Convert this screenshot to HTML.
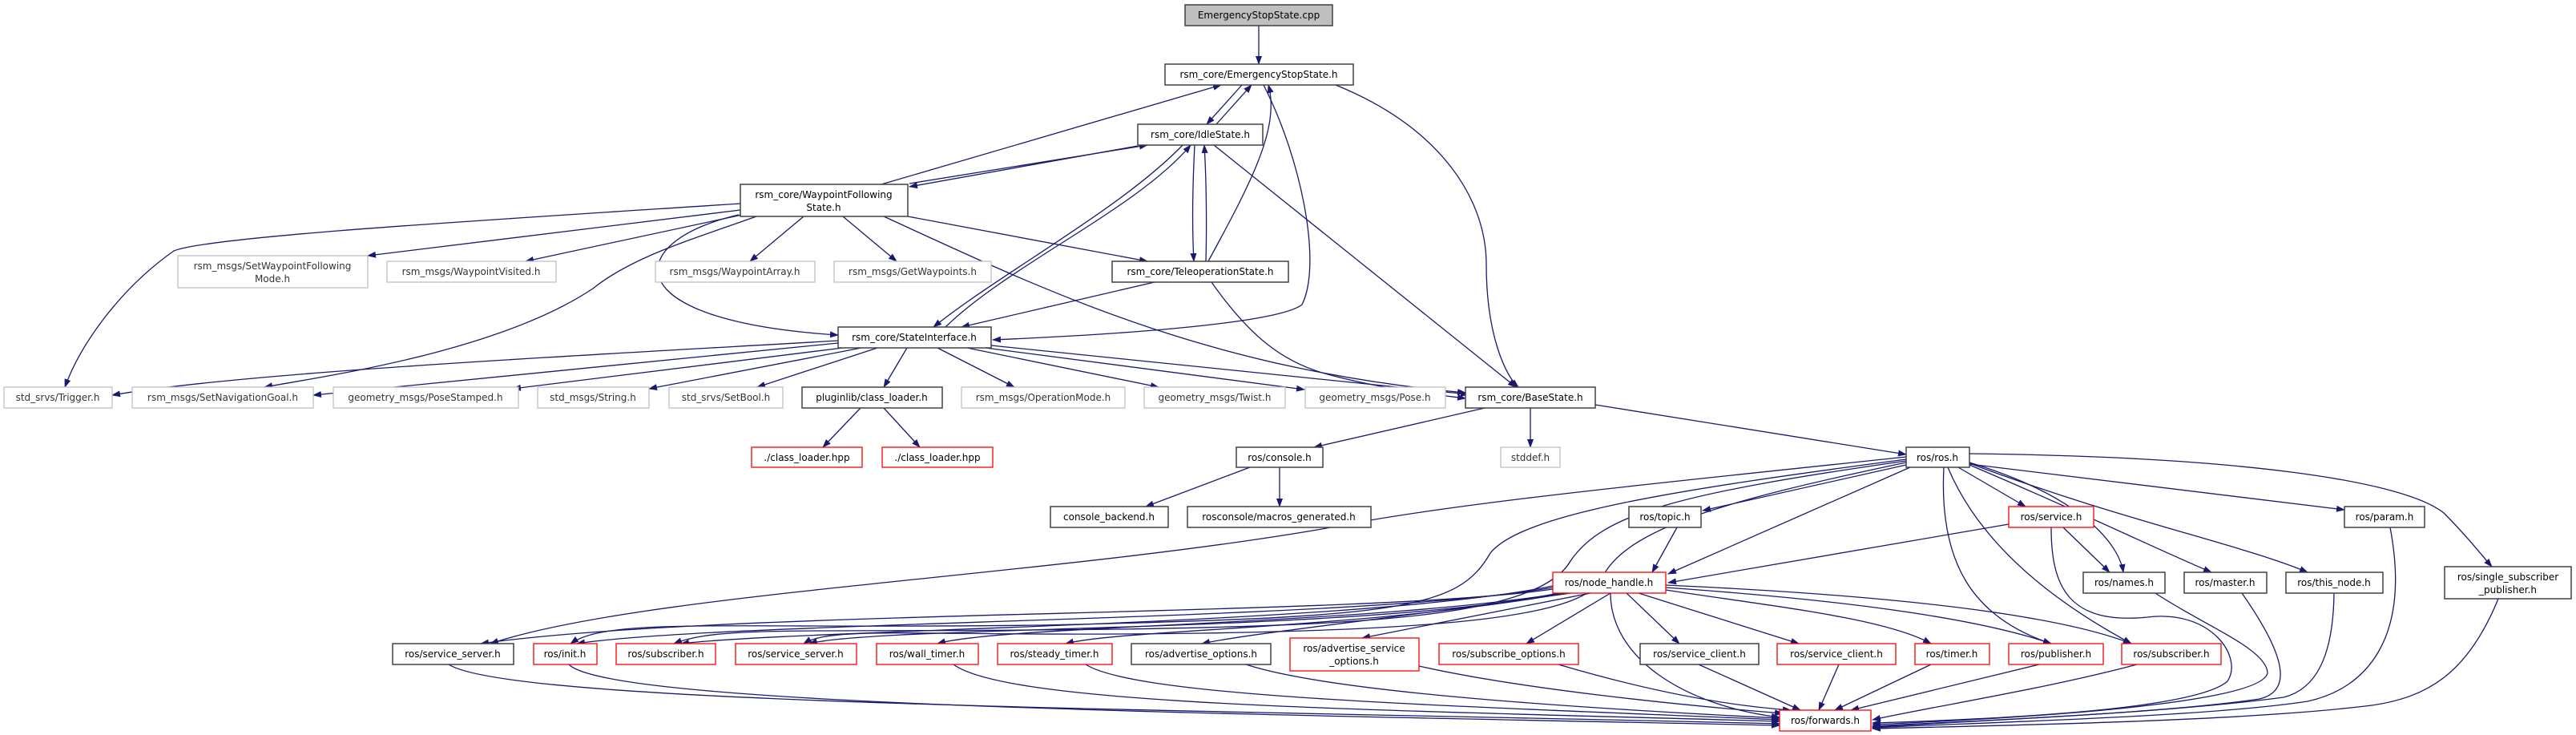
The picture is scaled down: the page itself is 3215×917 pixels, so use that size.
<!DOCTYPE html>
<html><head><meta charset="utf-8"><style>
html,body{margin:0;padding:0;background:#fff;width:3215px;height:917px;overflow:hidden}
svg{display:block}
text{font-family:"DejaVu Sans","Liberation Sans",sans-serif;font-size:12px;text-anchor:middle;fill:#000}
.e{fill:none;stroke:#191970;stroke-width:1.3}
.nb{fill:#fff;stroke:#404040;stroke-width:1.5}
.ng{fill:#fff;stroke:#bfbfbf;stroke-width:1.3}
.nr{fill:#fff;stroke:#ff0000;stroke-width:1.3}
.gt{fill:#333}
</style></head><body>
<svg width="3215" height="917" viewBox="0 0 3215 917" xmlns="http://www.w3.org/2000/svg">
<defs><marker id="a" markerUnits="userSpaceOnUse" markerWidth="11" markerHeight="8" refX="10" refY="4" orient="auto"><path d="M0,0 L11,4 L0,8 z" fill="#191970"/></marker></defs>
<g class="e" marker-end="url(#a)">
<path d="M1571,32 L1571,80"/>
<path d="M1550,106 L1506,155"/>
<path d="M1518,155 L1562,106"/>
<path d="M1667,106 C1800,160 1855,250 1855,330 C1855,420 1880,470 1895,483"/>
<path d="M1577,106 C1625,200 1650,330 1625,380 C1600,400 1450,415 1239,424"/>
<path d="M1100,230 L1524,106"/>
<path d="M1420,182 L1135,233"/>
<path d="M1135,229 L1432,181"/>
<path d="M1476,181 C1400,260 1250,340 1165,408"/>
<path d="M1180,408 C1260,330 1420,260 1486,181"/>
<path d="M1491,181 C1488,240 1488,290 1490,326"/>
<path d="M1505,326 C1506,290 1506,230 1503,181"/>
<path d="M1515,181 L1892,483"/>
<path d="M1508,326 C1560,230 1598,160 1583,106"/>
<path d="M1441,352 L1200,408"/>
<path d="M1512,352 C1560,420 1600,450 1650,465 C1720,485 1790,492 1829,497"/>
<path d="M1133,270 L1432,326"/>
<path d="M1103,270 C1300,360 1500,460 1829,490"/>
<path d="M924,254 C600,275 260,295 217,313 C150,360 100,430 81,483"/>
<path d="M924,262 L459,319"/>
<path d="M926,268 L656,326"/>
<path d="M944,270 C860,300 790,320 740,360 C620,440 400,470 330,483"/>
<path d="M922,268 C780,300 760,400 1046,418"/>
<path d="M1003,270 L936,326"/>
<path d="M1052,270 L1119,326"/>
<path d="M1046,425 C700,445 300,465 140,493"/>
<path d="M1046,428 L391,493"/>
<path d="M1052,434 L640,485"/>
<path d="M1075,434 L810,485"/>
<path d="M1095,434 L945,483"/>
<path d="M1132,434 L1103,483"/>
<path d="M1170,434 L1266,483"/>
<path d="M1207,434 L1446,483"/>
<path d="M1230,434 L1628,486"/>
<path d="M1237,431 L1833,492"/>
<path d="M1074,509 L1027,558"/>
<path d="M1103,509 L1148,558"/>
<path d="M1853,509 L1640,558"/>
<path d="M1910,509 L1910,558"/>
<path d="M1991,505 L2379,567"/>
<path d="M1560,583 L1430,632"/>
<path d="M1597,583 L1597,632"/>
<path d="M2379,580 L2125,637"/>
<path d="M2384,583 L2082,716"/>
<path d="M2444,583 L2528,632"/>
<path d="M2458,577 C2600,620 2645,680 2650,714"/>
<path d="M2458,580 C2600,640 2680,680 2760,714"/>
<path d="M2458,578 C2650,650 2800,680 2880,714"/>
<path d="M2458,579 L2926,636"/>
<path d="M2458,566 C2800,570 3000,600 3050,640 C3080,670 3095,690 3110,707"/>
<path d="M2426,583 C2420,700 2460,770 2560,803"/>
<path d="M2431,583 C2480,700 2600,770 2660,803"/>
<path d="M2379,570 C2000,610 1800,630 1650,660 C1300,720 800,740 612,803"/>
<path d="M2379,573 C2100,610 1900,640 1860,690 C1820,760 1750,770 1300,780 C900,785 760,770 712,803"/>
<path d="M2379,575 C2100,615 2000,640 1960,700 C1920,770 1700,780 1400,785 C1000,790 900,780 841,803"/>
<path d="M2379,577 C2150,625 2030,660 2000,720 C1980,770 1800,785 1500,790 C1150,795 1040,780 1003,803"/>
<path d="M2507,654 L2082,727"/>
<path d="M2575,658 L2633,714"/>
<path d="M2093,658 L2062,714"/>
<path d="M1938,735 C1700,770 900,760 600,803"/>
<path d="M1938,733 C1700,775 900,775 720,803"/>
<path d="M1938,731 C1700,780 1000,785 850,803"/>
<path d="M1945,740 C1700,790 1100,780 1010,803"/>
<path d="M1950,740 C1700,780 1250,780 1170,803"/>
<path d="M1955,740 C1700,785 1400,785 1330,803"/>
<path d="M1960,740 C1750,770 1560,790 1500,803"/>
<path d="M1985,740 L1700,796"/>
<path d="M2010,740 L1905,803"/>
<path d="M2030,740 L2096,803"/>
<path d="M2045,740 L2245,803"/>
<path d="M2079,736 C2200,755 2350,770 2410,803"/>
<path d="M2079,733 C2250,745 2450,765 2560,803"/>
<path d="M2079,730 C2300,740 2550,760 2660,803"/>
<path d="M2010,740 C2010,820 2100,880 2221,895"/>
<path d="M2560,658 C2560,730 2580,780 2680,770 C2760,760 2800,820 2780,850 C2740,885 2500,897 2337,902"/>
<path d="M2690,740 C2750,780 2830,810 2830,840 C2820,880 2500,897 2337,904"/>
<path d="M2798,740 C2840,800 2870,860 2820,872 C2700,890 2450,900 2337,906"/>
<path d="M2913,740 C2912,820 2890,860 2850,870 C2700,890 2450,900 2337,907"/>
<path d="M2983,658 C3010,800 2950,860 2880,875 C2750,895 2450,902 2337,908"/>
<path d="M3118,747 C3080,840 3030,870 2960,880 C2800,900 2500,905 2337,909"/>
<path d="M560,829 C640,880 1500,885 2221,903"/>
<path d="M710,829 C760,880 1500,890 2221,905"/>
<path d="M1190,829 C1260,880 1700,885 2221,900"/>
<path d="M1355,829 C1420,870 1800,880 2221,898"/>
<path d="M1555,829 C1650,860 1900,880 2221,896"/>
<path d="M1771,831 C1900,860 2100,880 2225,890"/>
<path d="M1945,829 C2050,860 2150,880 2235,886"/>
<path d="M2120,829 L2247,886"/>
<path d="M2295,829 L2270,886"/>
<path d="M2410,829 L2290,886"/>
<path d="M2545,829 L2310,886"/>
<path d="M2667,829 C2550,860 2420,880 2337,898"/>
</g>
<g>
<rect x="1479" y="6" width="184" height="26" fill="#bfbfbf" stroke="#404040" stroke-width="1.5"/><text x="1571" y="23">EmergencyStopState.cpp</text>
<rect class="nb" x="1454" y="80" width="235" height="26"/><text x="1571" y="97">rsm_core/EmergencyStopState.h</text>
<rect class="nb" x="1420" y="155" width="156" height="26"/><text x="1498" y="172">rsm_core/IdleState.h</text>
<rect class="nb" x="924" y="230" width="209" height="40"/><text x="1028" y="247">rsm_core/WaypointFollowing</text><text x="1028" y="263">State.h</text>
<rect class="ng" x="222" y="319" width="237" height="40"/><text class="gt" x="340" y="336">rsm_msgs/SetWaypointFollowing</text><text class="gt" x="340" y="352">Mode.h</text>
<rect class="ng" x="483" y="326" width="211" height="26"/><text class="gt" x="588" y="343">rsm_msgs/WaypointVisited.h</text>
<rect class="ng" x="818" y="326" width="199" height="26"/><text class="gt" x="917" y="343">rsm_msgs/WaypointArray.h</text>
<rect class="ng" x="1041" y="326" width="196" height="26"/><text class="gt" x="1139" y="343">rsm_msgs/GetWaypoints.h</text>
<rect class="nb" x="1388" y="326" width="220" height="26"/><text x="1498" y="343">rsm_core/TeleoperationState.h</text>
<rect class="nb" x="1046" y="408" width="191" height="26"/><text x="1141" y="425">rsm_core/StateInterface.h</text>
<rect class="ng" x="5" y="483" width="135" height="26"/><text class="gt" x="72" y="500">std_srvs/Trigger.h</text>
<rect class="ng" x="165" y="483" width="226" height="26"/><text class="gt" x="278" y="500">rsm_msgs/SetNavigationGoal.h</text>
<rect class="ng" x="416" y="483" width="231" height="26"/><text class="gt" x="531" y="500">geometry_msgs/PoseStamped.h</text>
<rect class="ng" x="671" y="483" width="139" height="26"/><text class="gt" x="740" y="500">std_msgs/String.h</text>
<rect class="ng" x="835" y="483" width="142" height="26"/><text class="gt" x="906" y="500">std_srvs/SetBool.h</text>
<rect class="nb" x="1001" y="483" width="175" height="26"/><text x="1088" y="500">pluginlib/class_loader.h</text>
<rect class="ng" x="1200" y="483" width="204" height="26"/><text class="gt" x="1302" y="500">rsm_msgs/OperationMode.h</text>
<rect class="ng" x="1428" y="483" width="176" height="26"/><text class="gt" x="1516" y="500">geometry_msgs/Twist.h</text>
<rect class="ng" x="1629" y="483" width="175" height="26"/><text class="gt" x="1716" y="500">geometry_msgs/Pose.h</text>
<rect class="nb" x="1829" y="483" width="162" height="26"/><text x="1910" y="500">rsm_core/BaseState.h</text>
<rect class="nr" x="938" y="558" width="138" height="25"/><text x="1007" y="575">./class_loader.hpp</text>
<rect class="nr" x="1101" y="558" width="138" height="25"/><text x="1170" y="575">./class_loader.hpp</text>
<rect class="nb" x="1543" y="558" width="108" height="25"/><text x="1597" y="575">ros/console.h</text>
<rect class="ng" x="1873" y="558" width="74" height="25"/><text class="gt" x="1910" y="575">stddef.h</text>
<rect class="nb" x="2379" y="558" width="79" height="25"/><text x="2418" y="575">ros/ros.h</text>
<rect class="nb" x="1311" y="632" width="147" height="26"/><text x="1384" y="649">console_backend.h</text>
<rect class="nb" x="1482" y="632" width="229" height="26"/><text x="1596" y="649">rosconsole/macros_generated.h</text>
<rect class="nb" x="2033" y="632" width="90" height="26"/><text x="2078" y="649">ros/topic.h</text>
<rect class="nr" x="2507" y="632" width="106" height="26"/><text x="2560" y="649">ros/service.h</text>
<rect class="nb" x="2926" y="632" width="100" height="26"/><text x="2976" y="649">ros/param.h</text>
<rect class="nr" x="1938" y="714" width="141" height="26"/><text x="2008" y="731">ros/node_handle.h</text>
<rect class="nb" x="2600" y="714" width="102" height="26"/><text x="2651" y="731">ros/names.h</text>
<rect class="nb" x="2726" y="714" width="103" height="26"/><text x="2777" y="731">ros/master.h</text>
<rect class="nb" x="2853" y="714" width="121" height="26"/><text x="2913" y="731">ros/this_node.h</text>
<rect class="nb" x="3051" y="707" width="158" height="40"/><text x="3130" y="724">ros/single_subscriber</text><text x="3130" y="740">_publisher.h</text>
<rect class="nb" x="490" y="803" width="151" height="26"/><text x="565" y="820">ros/service_server.h</text>
<rect class="nr" x="666" y="803" width="79" height="26"/><text x="705" y="820">ros/init.h</text>
<rect class="nr" x="769" y="803" width="124" height="26"/><text x="831" y="820">ros/subscriber.h</text>
<rect class="nr" x="918" y="803" width="151" height="26"/><text x="993" y="820">ros/service_server.h</text>
<rect class="nr" x="1094" y="803" width="127" height="26"/><text x="1157" y="820">ros/wall_timer.h</text>
<rect class="nr" x="1245" y="803" width="143" height="26"/><text x="1316" y="820">ros/steady_timer.h</text>
<rect class="nb" x="1412" y="803" width="174" height="26"/><text x="1499" y="820">ros/advertise_options.h</text>
<rect class="nr" x="1610" y="796" width="161" height="41"/><text x="1690" y="813">ros/advertise_service</text><text x="1690" y="829">_options.h</text>
<rect class="nr" x="1796" y="803" width="174" height="26"/><text x="1883" y="820">ros/subscribe_options.h</text>
<rect class="nb" x="2047" y="803" width="148" height="26"/><text x="2121" y="820">ros/service_client.h</text>
<rect class="nr" x="2218" y="803" width="148" height="26"/><text x="2292" y="820">ros/service_client.h</text>
<rect class="nr" x="2390" y="803" width="93" height="26"/><text x="2436" y="820">ros/timer.h</text>
<rect class="nr" x="2507" y="803" width="118" height="26"/><text x="2566" y="820">ros/publisher.h</text>
<rect class="nr" x="2648" y="803" width="124" height="26"/><text x="2710" y="820">ros/subscriber.h</text>
<rect class="nr" x="2221" y="886" width="114" height="26"/><text x="2278" y="903">ros/forwards.h</text>
</g>
</svg>
</body></html>
